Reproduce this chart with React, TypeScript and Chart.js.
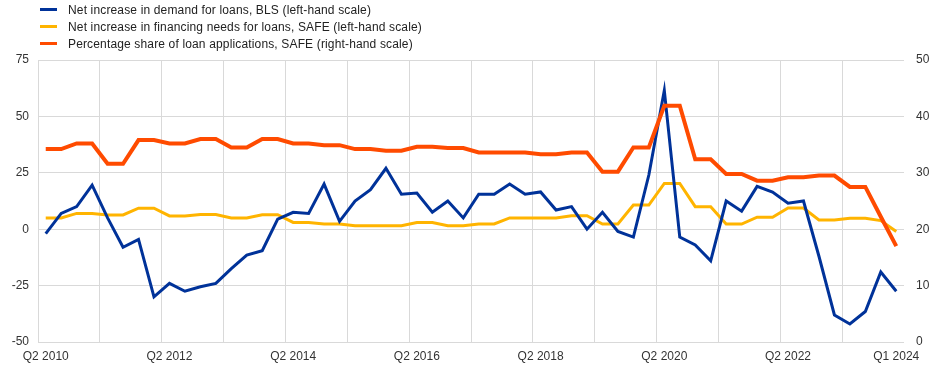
import React, { useEffect, useRef } from "react";
import { Chart, registerables } from "chart.js";

Chart.register(...registerables);

const quarters: string[] = [
  "Q2 2010", "Q3 2010", "Q4 2010", "Q1 2011", "Q2 2011", "Q3 2011", "Q4 2011", "Q1 2012",
  "Q2 2012", "Q3 2012", "Q4 2012", "Q1 2013", "Q2 2013", "Q3 2013", "Q4 2013", "Q1 2014",
  "Q2 2014", "Q3 2014", "Q4 2014", "Q1 2015", "Q2 2015", "Q3 2015", "Q4 2015", "Q1 2016",
  "Q2 2016", "Q3 2016", "Q4 2016", "Q1 2017", "Q2 2017", "Q3 2017", "Q4 2017", "Q1 2018",
  "Q2 2018", "Q3 2018", "Q4 2018", "Q1 2019", "Q2 2019", "Q3 2019", "Q4 2019", "Q1 2020",
  "Q2 2020", "Q3 2020", "Q4 2020", "Q1 2021", "Q2 2021", "Q3 2021", "Q4 2021", "Q1 2022",
  "Q2 2022", "Q3 2022", "Q4 2022", "Q1 2023", "Q2 2023", "Q3 2023", "Q4 2023", "Q1 2024",
];

const shownTickLabels: string[] = [
  "Q2 2010", "Q2 2012", "Q2 2014", "Q2 2016", "Q2 2018", "Q2 2020", "Q2 2022", "Q1 2024",
];

// Net increase in demand for loans, BLS (left-hand scale)
const demandBLS: number[] = [
  -2, 7, 10, 19.5, 5, -8, -4.5, -30,
  -24, -27.5, -25.5, -24, -17.5, -11.5, -9.5, 4.5,
  7.5, 7, 20, 3.5, 12.5, 17.5, 27, 15.5,
  16, 7.5, 12.5, 5, 15.5, 15.5, 20, 15.5,
  16.5, 8.5, 10, 0, 7.5, -1, -3.5, 24,
  61.5, -3.5, -7, -14, 12.5, 8, 19, 16.5,
  11.5, 12.5, -12, -38, -42, -36.5, -19, -27.5,
];

// Net increase in financing needs for loans, SAFE (left-hand scale)
const financingSAFE: number[] = [
  5, 5, 7, 7, 6.3, 6.3, 9.3, 9.3,
  5.9, 5.9, 6.5, 6.5, 5, 5, 6.4, 6.4,
  3, 3, 2.3, 2.3, 1.5, 1.5, 1.5, 1.5,
  3, 3, 1.5, 1.5, 2.3, 2.3, 5, 5,
  5, 5, 6, 6, 2.3, 2.3, 10.7, 10.7,
  20.3, 20.3, 10, 10, 2.3, 2.3, 5.3, 5.3,
  9.4, 9.4, 4.1, 4.1, 4.8, 4.8, 3.8, -1,
];

// Percentage share of loan applications, SAFE (right-hand scale)
const applicationsSAFE: number[] = [
  34.2, 34.2, 35.2, 35.2, 31.6, 31.6, 35.8, 35.8,
  35.2, 35.2, 36, 36, 34.5, 34.5, 36, 36,
  35.2, 35.2, 34.9, 34.9, 34.2, 34.2, 33.9, 33.9,
  34.6, 34.6, 34.4, 34.4, 33.6, 33.6, 33.6, 33.6,
  33.3, 33.3, 33.6, 33.6, 30.2, 30.2, 34.5, 34.5,
  41.9, 41.9, 32.4, 32.4, 29.8, 29.8, 28.6, 28.6,
  29.2, 29.2, 29.5, 29.5, 27.5, 27.5, 22.2, 17,
];

const seriesNames: string[] = [
  "Net increase in demand for loans, BLS (left-hand scale)",
  "Net increase in financing needs for loans, SAFE (left-hand scale)",
  "Percentage share of loan applications, SAFE (right-hand scale)",
];

const seriesColors: string[] = ["#003299", "#ffb400", "#ff4b00"];

const FONT = "'Liberation Sans', Arial, Helvetica, sans-serif";

export default function App() {
  const canvasRef = useRef<HTMLCanvasElement | null>(null);

  useEffect(() => {
    document.body.style.margin = "0";
    const canvas = canvasRef.current;
    if (!canvas) return;
    const chart = new Chart(canvas, {
      type: "line",
      data: {
        labels: quarters,
        datasets: [
          {
            label: seriesNames[0],
            data: demandBLS,
            borderColor: seriesColors[0],
            backgroundColor: seriesColors[0],
            borderWidth: 3,
            pointRadius: 0,
            tension: 0,
            yAxisID: "y",
            order: 1,
          },
          {
            label: seriesNames[1],
            data: financingSAFE,
            borderColor: seriesColors[1],
            backgroundColor: seriesColors[1],
            borderWidth: 3,
            pointRadius: 0,
            tension: 0,
            yAxisID: "y",
            order: 2,
          },
          {
            label: seriesNames[2],
            data: applicationsSAFE,
            borderColor: seriesColors[2],
            backgroundColor: seriesColors[2],
            borderWidth: 4,
            pointRadius: 0,
            tension: 0,
            yAxisID: "y1",
            order: 0,
          },
        ],
      },
      options: {
        responsive: false,
        animation: false,
        layout: { padding: { top: 60, left: 0, right: 0, bottom: 0 } },
        plugins: {
          legend: { display: false },
          tooltip: { enabled: false },
        },
        scales: {
          x: {
            type: "category",
            offset: true,
            grid: {
              offset: true,
              drawTicks: false,
              color: (ctx: any) => (ctx.index % 4 === 0 ? "#d9d9d9" : "rgba(0,0,0,0)"),
              lineWidth: 1,
            },
            border: { display: false },
            ticks: {
              autoSkip: false,
              maxRotation: 0,
              minRotation: 0,
              padding: 7,
              color: "#333333",
              font: { family: FONT, size: 12 },
              callback: (_v: any, idx: number) => {
                const lab = quarters[idx];
                return shownTickLabels.includes(lab) ? lab : "";
              },
            },
            afterFit: (scale: any) => {
              scale.height = 30;
            },
          },
          y: {
            position: "left",
            min: -50,
            max: 75,
            ticks: {
              stepSize: 25,
              padding: 9,
              color: "#333333",
              font: { family: FONT, size: 12 },
            },
            grid: { color: "#d9d9d9", lineWidth: 1, drawTicks: false },
            border: { display: false },
            afterFit: (scale: any) => {
              scale.width = 38;
            },
          },
          y1: {
            position: "right",
            min: 0,
            max: 50,
            ticks: {
              stepSize: 10,
              padding: 12,
              color: "#333333",
              font: { family: FONT, size: 12 },
            },
            grid: { display: false, drawTicks: false },
            border: { display: false },
            afterFit: (scale: any) => {
              scale.width = 41;
            },
          },
        },
      },
    });
    return () => chart.destroy();
  }, []);

  return (
    <div style={{ position: "relative", width: 945, height: 372, overflow: "hidden", background: "#fff" }}>
      <canvas ref={canvasRef} width={945} height={372} style={{ position: "absolute", left: 0, top: 0 }} />
      <div style={{ position: "absolute", left: 40, top: 1, fontFamily: FONT, fontSize: 12, color: "#222", letterSpacing: "0.15px" }}>
        {seriesNames.map((name, i) => (
          <div key={name} style={{ display: "flex", alignItems: "center", height: 17 }}>
            <span style={{ display: "inline-block", width: 17, height: 3, background: seriesColors[i], marginRight: 11 }} />
            <span style={{ whiteSpace: "nowrap" }}>{name}</span>
          </div>
        ))}
      </div>
    </div>
  );
}
